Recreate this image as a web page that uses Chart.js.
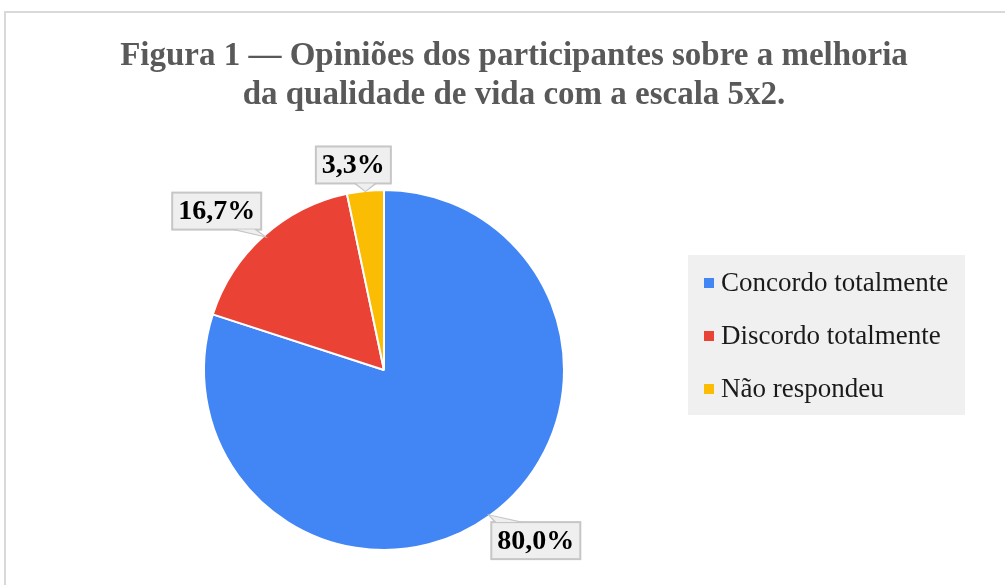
<!DOCTYPE html>
<html>
<head>
<meta charset="utf-8">
<script src="https://cdn.jsdelivr.net/npm/chart.js@4"></script>
<style>
	html, body { margin: 0; padding: 0; background: #fff; }
	#wrap { width: 1005px; height: 585px; }
</style>
</head>
<body>
<div id="wrap"><canvas id="myChart" width="1005" height="585"></canvas></div>
<script>
var categories = ['Concordo totalmente', 'Discordo totalmente', 'Não respondeu']
var percentages = [80.0, 16.7, 3.3]
var sliceColors = ['#4285f4', '#ea4335', '#fbbc04']
var titleLines = ['Figura 1 — Opiniões dos participantes sobre a melhoria', 'da qualidade de vida com a escala 5x2.']

// where each callout box sits relative to the edge of its slice
var labelOffsets = [[46, 25], [-47, -25], [-12, -26]]

var serif = "'Liberation Serif', 'Times New Roman', serif"

var frame = {
	id: 'frame',
	beforeDraw (chart) {
		var ctx = chart.ctx
		ctx.save()
		ctx.strokeStyle = '#d9d9d9'
		ctx.lineWidth = 2
		ctx.strokeRect(5, 12, 1100, 700)
		// title is wider than the pie area, so it is drawn here
		ctx.fillStyle = '#595959'
		ctx.font = 'bold 33px ' + serif
		ctx.textAlign = 'center'
		ctx.textBaseline = 'alphabetic'
		titleLines.forEach((line, i) => {
			ctx.fillText(line, 514, 65 + i * 39)
		})
		ctx.restore()
	}
}

var sideLegend = {
	id: 'sideLegend',
	afterDraw (chart) {
		var ctx = chart.ctx
		var ds = chart.data.datasets[0]
		ctx.save()
		ctx.fillStyle = '#f0f0f0'
		ctx.fillRect(688, 255, 277, 160)
		ctx.font = '27px ' + serif
		ctx.textBaseline = 'middle'
		ctx.textAlign = 'left'
		chart.data.labels.forEach((lab, i) => {
			var y = 283 + i * 53
			ctx.fillStyle = ds.backgroundColor[i]
			ctx.fillRect(704, y - 5, 10, 10)
			ctx.fillStyle = '#1a1a1a'
			ctx.fillText(lab, 721, y + 1)
		})
		ctx.restore()
	}
}

var callouts = {
	id: 'callouts',
	afterDatasetsDraw (chart) {
		var ctx = chart.ctx
		var meta = chart.getDatasetMeta(0)
		var values = chart.data.datasets[0].data
		ctx.save()
		ctx.font = 'bold 28px ' + serif
		ctx.textAlign = 'center'
		ctx.textBaseline = 'middle'
		meta.data.forEach((arc, i) => {
			var p = arc.getProps(['x', 'y', 'startAngle', 'endAngle', 'outerRadius'], true)
			var mid = (p.startAngle + p.endAngle) / 2
			var tipX = p.x + Math.cos(mid) * p.outerRadius
			var tipY = p.y + Math.sin(mid) * p.outerRadius
			var cx = tipX + labelOffsets[i][0]
			var cy = tipY + labelOffsets[i][1]
			var text = values[i].toFixed(1).replace('.', ',') + '%'
			var w = ctx.measureText(text).width + 12
			var h = 37
			var left = cx - w / 2
			var top = cy - h / 2
			var edgeY = tipY > cy ? top + h : top
			var bx = Math.min(Math.max(tipX, left + 16), left + w - 16)
			var half = tipY > cy ? 10 : 12

			ctx.fillStyle = '#efefef'
			ctx.strokeStyle = '#c6c6c6'
			ctx.lineWidth = 2
			ctx.beginPath()
			ctx.moveTo(bx - half, edgeY)
			ctx.lineTo(tipX, tipY)
			ctx.lineTo(bx + half, edgeY)
			ctx.closePath()
			ctx.fill()
			ctx.stroke()

			ctx.fillRect(left, top, w, h)
			ctx.strokeRect(left, top, w, h)
			ctx.beginPath()
			ctx.moveTo(bx - half + 1, edgeY)
			ctx.lineTo(tipX, tipY)
			ctx.lineTo(bx + half - 1, edgeY)
			ctx.closePath()
			ctx.fill()

			ctx.fillStyle = '#000'
			ctx.fillText(text, cx, cy + 1)
		})
		ctx.restore()
	}
}

var ctx = document.getElementById('myChart').getContext('2d')
var myChart = new Chart(ctx, {
	type: 'pie',
	data: {
		labels: categories,
		datasets: [{
			data: percentages,
			backgroundColor: sliceColors,
			borderColor: '#ffffff',
			borderWidth: 2
		}]
	},
	options: {
		responsive: false,
		animation: false,
		layout: {
			padding: { left: 203, right: 440, top: 187, bottom: 32 }
		},
		plugins: {
			legend: { display: false },
			tooltip: { enabled: false },
			title: { display: false }
		}
	},
	plugins: [frame, callouts, sideLegend]
})
</script>
</body>
</html>
